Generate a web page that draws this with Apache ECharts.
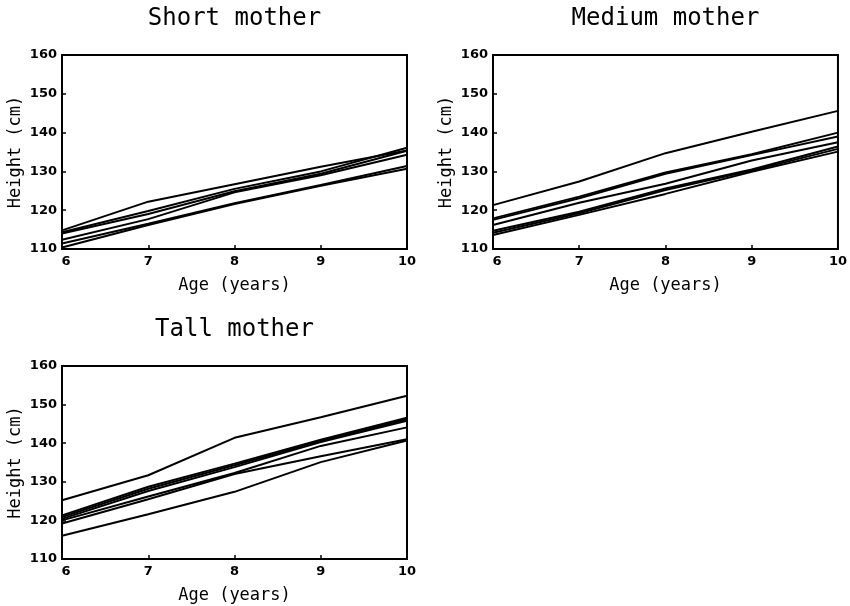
<!DOCTYPE html>
<html>
<head>
<meta charset="utf-8">
<script src="https://cdn.jsdelivr.net/npm/echarts@6/dist/echarts.min.js"></script>
<style>
  html, body { margin: 0; padding: 0; background: #fff; }
  #chart { width: 850px; height: 606px; }
</style>
</head>
<body>
<div id="chart"></div>
<script>
// Ages at which each child was measured
const ages = [6, 7, 8, 9, 10];

// Heights (cm) of children grouped by mother's height
const shortMother = [
  [114.8, 122.2, 126.7, 131.2, 135.4],
  [114.3, 119.8, 125.5, 130.0, 136.1],
  [114.0, 119.0, 124.9, 129.4, 135.3],
  [112.4, 117.7, 124.6, 129.0, 134.3],
  [111.4, 116.5, 121.8, 126.5, 131.4],
  [110.4, 116.2, 121.6, 126.3, 130.7]
];
const mediumMother = [
  [121.3, 127.4, 134.7, 140.2, 145.6],
  [117.9, 123.5, 129.7, 134.4, 140.0],
  [117.5, 123.1, 129.4, 134.2, 139.0],
  [116.2, 121.9, 126.8, 132.8, 137.5],
  [114.7, 119.6, 125.6, 130.5, 136.4],
  [114.2, 119.2, 125.2, 130.2, 135.8],
  [113.6, 118.8, 124.2, 129.9, 135.1]
];
const tallMother = [
  [125.2, 131.7, 141.4, 146.7, 152.3],
  [121.3, 128.7, 134.7, 140.9, 146.6],
  [120.9, 128.2, 134.3, 140.6, 146.2],
  [120.4, 127.6, 133.8, 140.3, 145.8],
  [120.0, 126.2, 132.3, 139.3, 144.1],
  [119.2, 125.5, 132.0, 136.6, 141.0],
  [116.0, 121.6, 127.4, 135.1, 140.7]
];

const panelTitles = ['Short mother', 'Medium mother', 'Tall mother'];
const panelData = [shortMother, mediumMother, tallMother];
const xTicks = { min: 6, max: 10, interval: 1 };
const yTicks = { min: 110, max: 160, interval: 10 };

const FONT = 'DejaVu Sans Mono';
const TICK_FONT = 'DejaVu Sans';
const grids = [
  { left: 62, top: 55, width: 345, height: 194 },
  { left: 493, top: 55, width: 345, height: 194 },
  { left: 62, top: 366, width: 345, height: 193 }
];

const option = {
  backgroundColor: '#fff',
  animation: false,
  title: grids.map((g, i) => ({
    text: panelTitles[i],
    left: g.left + g.width / 2 - 5,
    top: g.top - 53,
    textAlign: 'center',
    textStyle: { fontFamily: FONT, fontSize: 24, fontWeight: 'normal', color: '#000' }
  })),
  grid: grids.map(g => Object.assign({
    show: true, borderColor: '#000', borderWidth: 2, backgroundColor: 'transparent'
  }, g)),
  xAxis: grids.map((g, i) => ({
    gridIndex: i,
    type: 'value',
    min: xTicks.min, max: xTicks.max, interval: xTicks.interval,
    name: 'Age (years)',
    nameLocation: 'middle',
    nameGap: 28,
    nameTextStyle: { fontFamily: FONT, fontSize: 17, color: '#000' },
    axisLine: { show: false },
    axisTick: { show: true, inside: true, length: 4, lineStyle: { color: '#000', width: 1.5 } },
    splitLine: { show: false },
    axisLabel: {
      margin: 6,
      fontFamily: TICK_FONT, fontSize: 13, fontWeight: 'bold', color: '#000',
      formatter: v => v === xTicks.min ? '{first|' + v + '}' : String(v),
      rich: { first: { fontFamily: TICK_FONT, fontSize: 13, fontWeight: 'bold', color: '#000', padding: [0, 0, 0, 8] } }
    }
  })),
  yAxis: grids.map((g, i) => ({
    gridIndex: i,
    type: 'value',
    min: yTicks.min, max: yTicks.max, interval: yTicks.interval,
    name: 'Height (cm)',
    nameLocation: 'middle',
    nameGap: 38,
    nameTextStyle: { fontFamily: FONT, fontSize: 17, color: '#000' },
    axisLine: { show: false },
    axisTick: { show: true, inside: true, length: 4, lineStyle: { color: '#000', width: 1.5 } },
    splitLine: { show: false },
    axisLabel: {
      margin: 5, padding: [5, 0, 0, 0],
      fontFamily: TICK_FONT, fontSize: 13, fontWeight: 'bold', color: '#000'
    }
  })),
  series: []
};

panelData.forEach((group, i) => {
  group.forEach(heights => {
    option.series.push({
      type: 'line',
      xAxisIndex: i,
      yAxisIndex: i,
      data: ages.map((a, k) => [a, heights[k]]),
      showSymbol: false,
      symbol: 'none',
      lineStyle: { color: '#000', width: 2 },
      clip: true,
      silent: true
    });
  });
});

const chart = echarts.init(document.getElementById('chart'), null, { renderer: 'canvas' });
chart.setOption(option);
</script>
</body>
</html>
